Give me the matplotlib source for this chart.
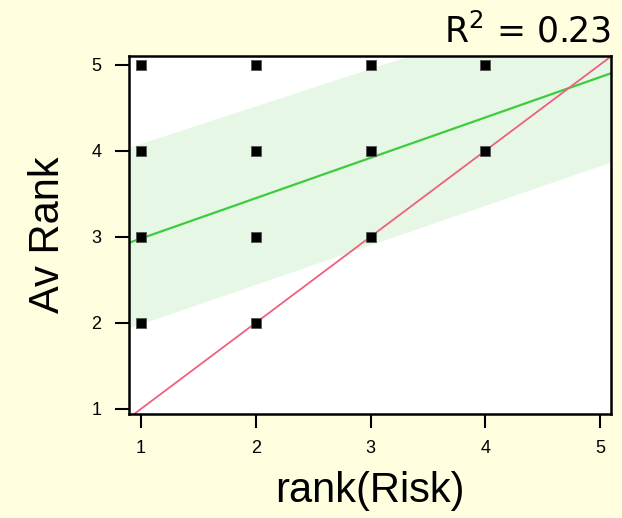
import matplotlib
matplotlib.use("Agg")
import matplotlib.pyplot as plt
import numpy as np

# Observed (rank of risk, average rank) pairs
risk_rank = [1, 2, 3, 4, 1, 2, 3, 4, 1, 2, 3, 1, 2]
av_rank = [5, 5, 5, 5, 4, 4, 4, 4, 3, 3, 3, 2, 2]

# Fitted regression line and its band (values at the axis ends)
fit_x = [0.895, 5.096]
fit_y = [2.93, 4.90]
band_upper = [4.04, 5.87]
band_lower = [1.94, 3.87]
r_squared = 0.23

x_ticks = [1, 2, 3, 4, 5]
y_ticks = [1, 2, 3, 4, 5]

bg = "#FFFFE0"
fig = plt.figure(figsize=(6.22, 5.18), dpi=100, facecolor=bg)
ax = fig.add_axes([0.2074, 0.2008, 0.775, 0.691])
ax.set_facecolor("white")

ax.fill_between(fit_x, band_lower, band_upper, color="#E6F7E6", lw=0, zorder=1)
ax.plot(fit_x, fit_y, color="#3DCC3D", lw=1.6, zorder=2)
ax.plot([0.8, 5.2], [0.8, 5.2], color="#F0607E", lw=1.3, zorder=2)
ax.scatter(risk_rank, av_rank, marker="s", s=52, color="black",
           edgecolors="#555555", linewidths=0.6, zorder=3)

ax.set_xlim(0.895, 5.096)
ax.set_ylim(0.94, 5.10)
ax.set_xticks(x_ticks)
ax.set_yticks(y_ticks)

tick_font = {"family": "Liberation Sans", "size": 13}
ax.set_xticklabels([str(t) for t in x_ticks], fontdict=tick_font)
ax.set_yticklabels([str(t) for t in y_ticks], fontdict=tick_font)
ax.tick_params(direction="out", length=10, width=1.5, color="black")
ax.tick_params(axis="x", pad=9)
ax.tick_params(axis="y", pad=10)
for s in ax.spines.values():
    s.set_linewidth(1.8)
    s.set_color("black")

ax.set_xlabel("rank(Risk)", family="Liberation Sans", fontsize=30, labelpad=10)
ax.set_ylabel("Av Rank", family="Liberation Sans", fontsize=30, labelpad=17)

fig.text(0.983, 0.918, "R$^2$ = %.2f" % r_squared, ha="right", va="baseline",
         family="DejaVu Sans", fontsize=25)

fig.savefig("out.png", dpi=100, facecolor=bg)
